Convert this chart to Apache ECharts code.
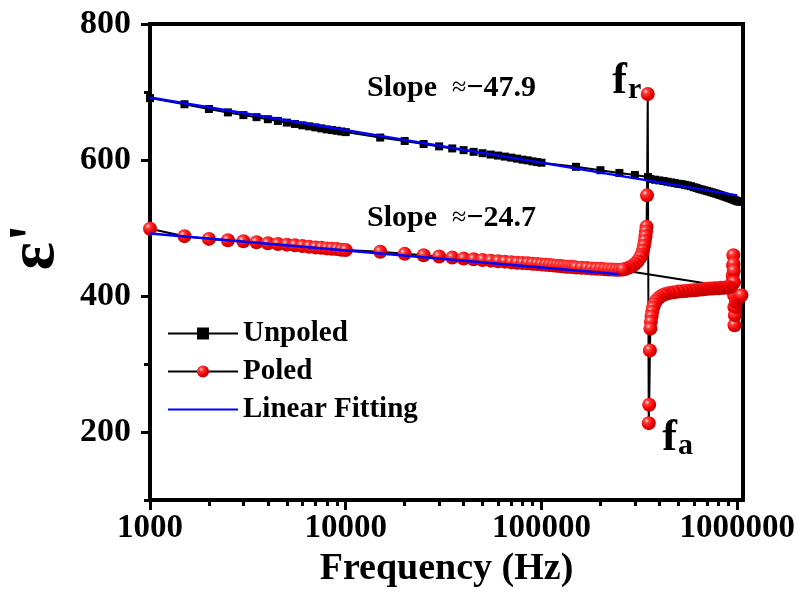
<!DOCTYPE html>
<html>
<head>
<meta charset="utf-8">
<script src="https://cdn.jsdelivr.net/npm/echarts@6/dist/echarts.min.js"></script>
<style>
  html, body { margin: 0; padding: 0; background: #fff; }
  #chart { width: 795px; height: 593px; }
</style>
</head>
<body>
<div id="chart"></div>
<script>
// ---- Data ----------------------------------------------------------------
// Unpoled sample: frequency (Hz) and real permittivity
const unpoledFreq = [
  1000, 1500, 2000, 2500, 3000, 3500, 4000, 4500, 5000, 5500, 6000, 6500, 7000, 7500, 8000, 8500, 9000, 9500, 10000,
  15000, 20000, 25000, 30000, 35000, 40000, 45000, 50000, 55000, 60000, 65000, 70000, 75000, 80000, 85000, 90000, 95000, 100000,
  150000, 200000, 250000, 300000, 350000,
  360000, 380000, 400000, 420000, 440000, 460000, 480000, 500000, 520000, 540000, 560000, 580000, 600000, 620000, 640000,
  660000, 680000, 700000, 720000, 740000, 760000, 780000, 800000, 820000, 840000, 860000, 880000, 900000, 920000, 940000,
  960000, 980000, 1000000, 1020000, 1040000
];
const unpoledEps = [
  691, 682, 675, 670, 666, 663, 660, 657.5, 655, 653, 651, 649.5, 648, 646.5, 645, 644, 643, 642, 641,
  633, 628, 623.5, 620, 617, 614.5, 612, 610, 608, 606.5, 605, 603.5, 602, 600.5, 599.5, 598, 597, 596,
  590, 585, 581, 578, 575,
  572, 571, 570, 569, 568, 567, 566, 565, 564.5, 563.5, 562.5, 561.5, 560, 559, 557.5,
  556.5, 555.5, 554.5, 553.5, 552.5, 551.5, 550.5, 549.5, 548.5, 547.5, 546.5, 545.5, 544.5, 543.5, 542.5,
  541.5, 540.5, 539.5, 539, 538.5
];

// Poled sample, listed in sweep order: low band up to 250 kHz, the band
// around 0.95 MHz, then back down through the resonance region.
const poledFreq = [
  1000, 1500, 2000, 2500, 3000, 3500, 4000, 4500, 5000, 5500, 6000, 6500, 7000, 7500, 8000, 8500, 9000, 9500, 10000,
  15000, 20000, 25000, 30000, 35000, 40000, 45000, 50000, 55000, 60000, 65000, 70000, 75000, 80000, 85000, 90000, 95000, 100000,
  105000, 110000, 115000, 120000, 125000, 130000, 135000, 140000, 145000, 150000,
  160000, 170000, 180000, 190000, 200000, 210000, 220000, 230000, 240000, 250000,
  925000, 935000, 942000, 948000, 952000, 955000, 958000, 960000, 962000, 964000, 966000, 968000,
  972000, 978000, 985000, 995000, 1010000, 1030000, 1050000,
  920000, 900000, 875000, 850000, 825000, 800000, 775000, 750000, 725000, 700000, 675000, 650000, 625000, 600000,
  575000, 550000, 525000, 500000, 475000, 450000, 430000, 415000, 400000, 390000, 383000, 377000, 372000, 368000,
  365000, 362000, 360000, 358000, 355000, 353000, 349000, 346000, 344000, 342000, 340000, 337000, 334000, 330000,
  325000, 320000, 310000, 300000, 290000, 280000, 270000, 260000
];
const poledEps = [
  499, 488, 484, 482, 480.5, 479, 477.5, 476.5, 475.5, 474.5, 473.5, 472.5, 471.5, 471, 470, 469.5, 469, 468, 467.5,
  465, 462, 460, 458, 456.5, 455, 454, 453, 452, 451, 450.5, 449.5, 449, 448.5, 448, 447.5, 447, 446.5,
  446, 445.5, 445, 444.5, 444, 443.5, 443, 443, 442.5, 442,
  441.5, 441, 440.5, 440, 440, 439.5, 439, 439, 438.5, 438.5,
  413, 415, 420, 430, 445, 460, 447, 437, 420, 401, 384, 357,
  372, 384, 391, 395, 398, 400, 401,
  413, 412.5, 412.5, 412, 412, 411.5, 411.5, 411, 411, 410.5, 410, 409.5, 409, 408.5,
  408, 407.5, 407, 406.5, 405.5, 404.5, 403, 401, 398, 395, 392, 388, 383, 377,
  370, 362, 352, 320, 240, 213, 697, 548, 502, 495, 488, 481, 474, 467,
  461, 457, 451, 447, 444, 442, 440, 439
];

// Linear fits of permittivity against log frequency (end points)
const fitUnpoledFreq = [1000, 1000000];
const fitUnpoledEps = [692, 548];
const fitPoledFreq = [1000, 250000];
const fitPoledEps = [492, 432];

// Axis ticks
const xMajorTicks = [1000, 10000, 100000, 1000000];
const xMinorTicks = [2000, 3000, 4000, 5000, 6000, 7000, 8000, 9000,
                     20000, 30000, 40000, 50000, 60000, 70000, 80000, 90000,
                     200000, 300000, 400000, 500000, 600000, 700000, 800000, 900000];
const yMajorTicks = [200, 400, 600, 800];
const yMinorTicks = [100, 300, 500, 700];

const slopeTexts = ['-47.9', '-24.7'];

// ---- Chart ---------------------------------------------------------------
const FONT = '"Liberation Serif", "Times New Roman", serif';
const pairs = (xs, ys) => xs.map((x, i) => [x, ys[i]]);
const iRes = poledEps.indexOf(Math.max(...poledEps));
const iAnti = poledEps.indexOf(Math.min(...poledEps));

const sphere = new echarts.graphic.RadialGradient(0.35, 0.32, 0.72, [
  { offset: 0, color: '#ffe6e6' },
  { offset: 0.22, color: '#ff4040' },
  { offset: 0.65, color: '#f00000' },
  { offset: 1, color: '#b80000' }
]);

const boldText = (size) => ({ color: '#000', fontFamily: FONT, fontWeight: 'bold', fontSize: size });
const slopeLabel = (s) => '{b|Slope  }{a|≈}{b|' + s.replace('-', '−') + '}';
const slopeRich = { b: boldText(30), a: { color: '#000', fontFamily: FONT, fontSize: 26 } };

const chart = echarts.init(document.getElementById('chart'), null, { renderer: 'canvas' });

chart.setOption({
  animation: false,
  backgroundColor: '#fff',
  grid: {
    left: 150, right: 52, top: 24, bottom: 93,
    containLabel: false, outerBoundsMode: 'none',
    show: true, borderColor: '#000', borderWidth: 4, backgroundColor: 'transparent'
  },
  xAxis: [{
    type: 'log', logBase: 10, min: 1000, max: 1070000, position: 'bottom',
    axisLine: { show: true, onZero: false, lineStyle: { color: '#000', width: 4 } },
    axisTick: { show: true, customValues: xMajorTicks, length: 10, lineStyle: { color: '#000', width: 3 } },
    axisLabel: Object.assign({ customValues: xMajorTicks, margin: 12, hideOverlap: false,
      formatter: (v) => String(Math.round(v)) }, boldText(33)),
    splitLine: { show: false },
    name: 'Frequency (Hz)', nameLocation: 'middle', nameGap: 49,
    nameTextStyle: boldText(38)
  }, {
    type: 'log', logBase: 10, min: 1000, max: 1070000, position: 'bottom',
    axisLine: { show: false },
    axisTick: { show: true, customValues: xMinorTicks, length: 6, lineStyle: { color: '#000', width: 3 } },
    axisLabel: { show: false },
    splitLine: { show: false }
  }],
  yAxis: [{
    type: 'value', min: 100, max: 800, interval: 100, position: 'left',
    axisLine: { show: true, onZero: false, lineStyle: { color: '#000', width: 4 } },
    axisTick: { show: true, customValues: yMajorTicks, length: 9, lineStyle: { color: '#000', width: 3 } },
    axisLabel: Object.assign({ customValues: yMajorTicks, margin: 19 }, boldText(34)),
    splitLine: { show: false },
    name: "ε'", nameLocation: 'middle', nameRotate: 90, nameGap: 76,
    nameTextStyle: Object.assign({ padding: [0, 0, 0, 30] }, boldText(66))
  }, {
    type: 'value', min: 100, max: 800, interval: 100, position: 'left',
    axisLine: { show: false },
    axisTick: { show: true, customValues: yMinorTicks, length: 6, lineStyle: { color: '#000', width: 3 } },
    axisLabel: { show: false },
    splitLine: { show: false }
  }],
  legend: {
    orient: 'vertical', left: 162, top: 313,
    itemWidth: 70, itemHeight: 15, itemGap: 7,
    textStyle: Object.assign({ lineHeight: 31 }, boldText(29)),
    data: ['Unpoled', 'Poled', { name: 'Linear Fitting', itemStyle: { opacity: 0 } }]
  },
  graphic: [
    { type: 'text', left: 367, top: 73, style: { text: slopeLabel(slopeTexts[0]), rich: slopeRich } },
    { type: 'text', left: 367, top: 203, style: { text: slopeLabel(slopeTexts[1]), rich: slopeRich } }
  ],
  series: [{
    name: 'Unpoled', type: 'line', xAxisIndex: 0, yAxisIndex: 0,
    data: pairs(unpoledFreq, unpoledEps),
    symbol: 'rect', symbolSize: 8,
    itemStyle: { color: '#000' },
    lineStyle: { color: '#000', width: 2 },
    emphasis: { disabled: true }, z: 2
  }, {
    name: 'Poled', type: 'line', xAxisIndex: 0, yAxisIndex: 0,
    data: pairs(poledFreq, poledEps),
    symbol: 'circle', symbolSize: 14,
    itemStyle: { color: sphere },
    lineStyle: { color: '#000', width: 2 },
    emphasis: { disabled: true }, z: 2,
    markPoint: {
      symbol: 'circle', symbolSize: 1, itemStyle: { color: 'rgba(0,0,0,0)' },
      data: [{
        coord: [poledFreq[iRes], poledEps[iRes]],
        label: { show: true, position: 'left', distance: 6, offset: [0, -12],
          formatter: '{f|f}{s|r}',
          rich: { f: boldText(44), s: Object.assign({ padding: [16, 0, 0, 1] }, boldText(30)) } }
      }, {
        coord: [poledFreq[iAnti], poledEps[iAnti]],
        label: { show: true, position: 'right', distance: 13, offset: [0, 15],
          formatter: '{f|f}{s|a}',
          rich: { f: boldText(44), s: Object.assign({ padding: [16, 0, 0, 1] }, boldText(30)) } }
      }]
    }
  }, {
    name: 'Linear Fitting', type: 'line', xAxisIndex: 0, yAxisIndex: 0,
    data: pairs(fitUnpoledFreq, fitUnpoledEps),
    symbol: 'none', lineStyle: { color: '#0000ff', width: 2.5 },
    emphasis: { disabled: true }, z: 4
  }, {
    name: 'Linear Fitting', type: 'line', xAxisIndex: 0, yAxisIndex: 0,
    data: pairs(fitPoledFreq, fitPoledEps),
    symbol: 'none', lineStyle: { color: '#0000ff', width: 2.5 },
    emphasis: { disabled: true }, z: 4
  }]
});
</script>
</body>
</html>
